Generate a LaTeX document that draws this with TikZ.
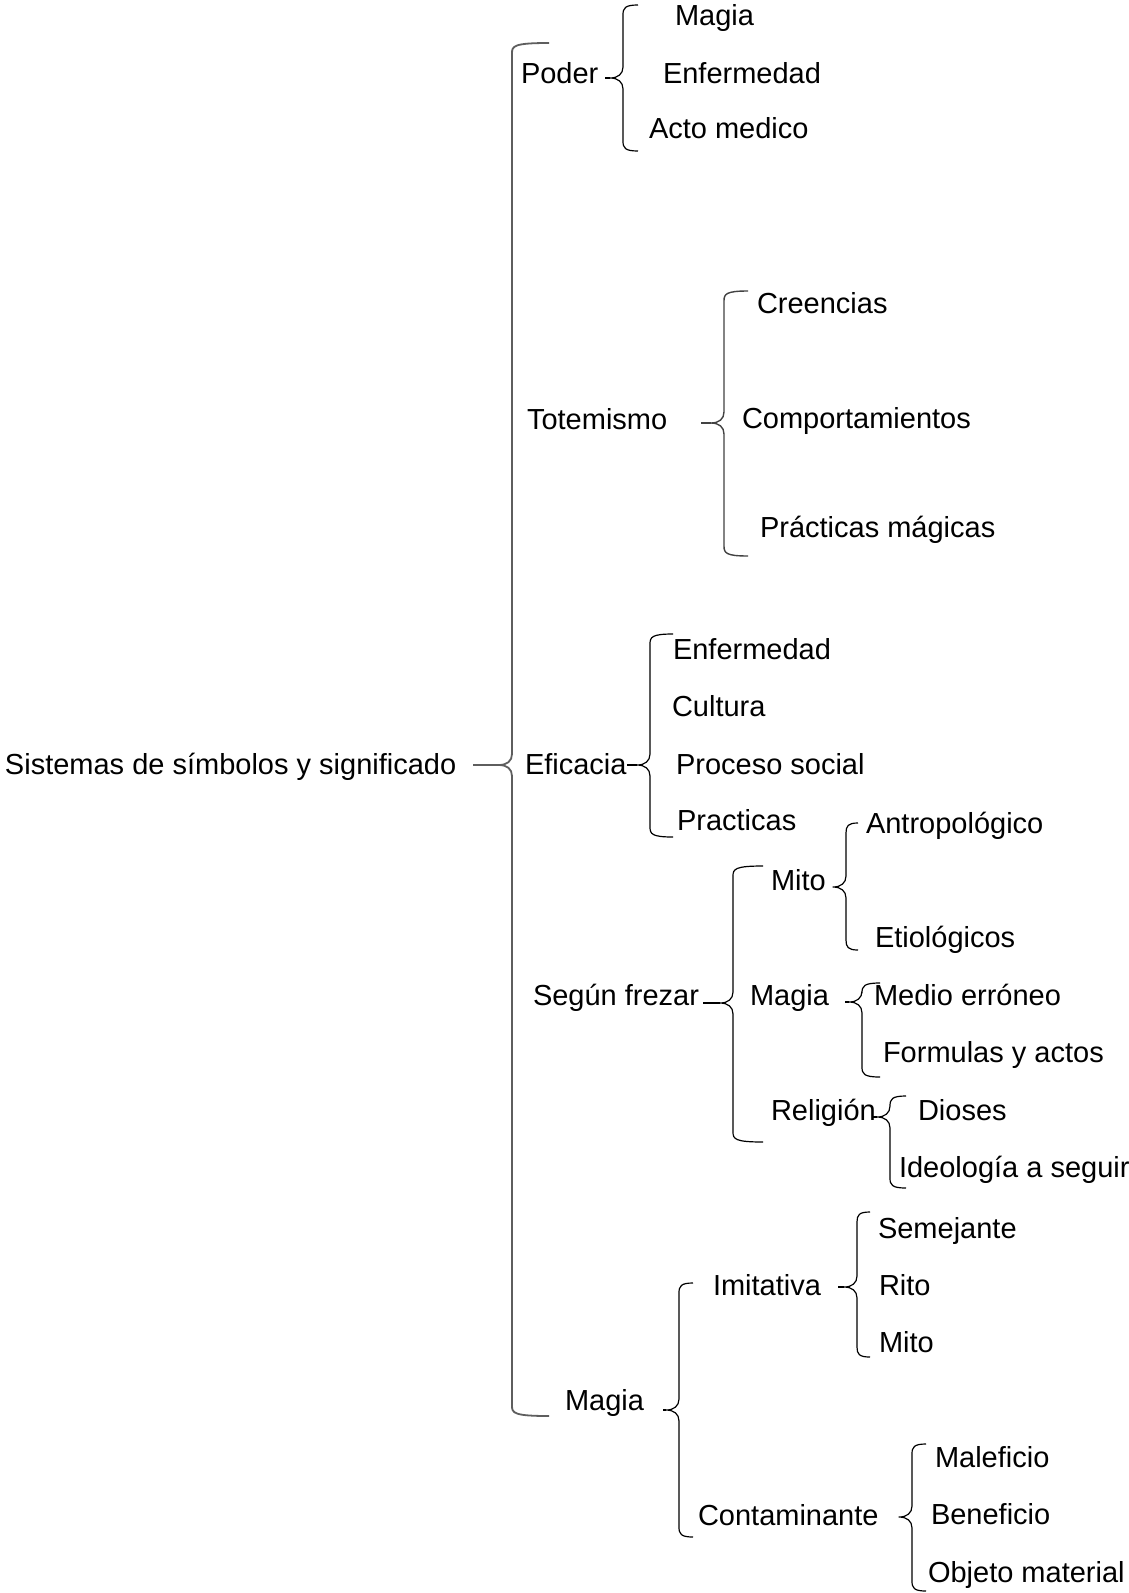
\documentclass[tikz,border=0pt]{standalone}
\usepackage{fontspec}
\setmainfont{Liberation Sans}
\definecolor{maingray}{HTML}{5E5E5E}
\tikzset{
  txt/.style={anchor=base west, inner sep=0pt, outer sep=0pt, font=\fontsize{29}{34}\selectfont},
  mainbr/.style={draw=maingray, line width=1.8pt},
  midbr/.style={draw=maingray!70!black, line width=1.4pt},
  smallbr/.style={draw=black, line width=1.2pt}
}
% #1 line x, #2 top y, #3 bottom y, #4 tip y, #5 tip start x, #6 hook end x, #7 style
\newcommand{\wbr}[7]{%
  \coordinate (brtip) at (#5,#4);
  \coordinate (brpt) at (#1-13,#4);
  \draw[#7, line join=round] (#6,#2) .. controls (#1+2,#2) and (#1,#2+3) .. (#1,#2+10) -- (#1,#4-11)
     .. controls (#1,#4-4) and (#1-5,#4) .. (brpt) .. controls (#1-5,#4) and (#1,#4+4) .. (#1,#4+11)
     -- (#1,#3-10) .. controls (#1,#3-3) and (#1+2,#3) .. (#6,#3);
  \draw[#7] (brtip) -- (brpt);
}
\begin{document}
\begin{tikzpicture}[x=1pt,y=-1pt]
\useasboundingbox (0,0) rectangle (1129,1593);
\fill[white] (0,0) rectangle (1129,1593);

% root
\node[txt] (root) at (5,774) {Sistemas de símbolos y significado};
\wbr{512}{43}{1416}{765}{473}{549}{mainbr}

% level 1
\node[txt] (poder) at (521,83) {Poder};
\node[txt] (totem) at (527,429) {Totemismo};
\node[txt] (efic) at (525,774) {Eficacia};
\node[txt] (segun) at (533,1005) {Según frezar};
\node[txt] (magia) at (565,1410) {Magia};

% Poder
\wbr{623}{5}{151}{78}{605}{638}{smallbr}
\node[txt] (p1) at (675,25) {Magia};
\node[txt] (p2) at (663,83) {Enfermedad};
\node[txt] (p3) at (649,138) {Acto medico};

% Totemismo
\wbr{724}{291}{556}{423}{701}{748}{midbr}
\node[txt] (t1) at (757,313) {Creencias};
\node[txt] (t2) at (742,428) {Comportamientos};
\node[txt] (t3) at (760,537) {Prácticas mágicas};

% Eficacia
\wbr{650}{634}{837}{765}{627}{673}{smallbr}
\node[txt] (e1) at (673,659) {Enfermedad};
\node[txt] (e2) at (672,716) {Cultura};
\node[txt] (e3) at (676,774) {Proceso social};
\node[txt] (e4) at (677,830) {Practicas};

% Segun frezar
\wbr{733}{866}{1142}{1003}{703}{763}{smallbr}
\node[txt] (s1) at (771,890) {Mito};
\node[txt] (s2) at (750,1005) {Magia};
\node[txt] (s3) at (771,1120) {Religión};

% Mito
\wbr{846}{823}{950}{887}{833}{858}{smallbr}
\node[txt] (m1) at (866,833) {Antropológico};
\node[txt] (m2) at (875,947) {Etiológicos};

% Magia (segun)
\wbr{862}{983}{1077}{1002}{845}{880}{smallbr}
\node[txt] (g1) at (874,1005) {Medio erróneo};
\node[txt] (g2) at (883,1062) {Formulas y actos};

% Religion
\wbr{890}{1096}{1188}{1117}{872}{906}{smallbr}
\node[txt] (r1) at (918,1120) {Dioses};
\node[txt] (r2) at (899,1177) {Ideología a seguir};

% Magia (main)
\wbr{679}{1283}{1537}{1410}{663}{693}{smallbr}
\node[txt] (im) at (713,1295) {Imitativa};
\node[txt] (co) at (698,1525) {Contaminante};

% Imitativa
\wbr{857}{1212}{1357}{1287}{838}{870}{smallbr}
\node[txt] (i1) at (878,1238) {Semejante};
\node[txt] (i2) at (879,1295) {Rito};
\node[txt] (i3) at (879,1352) {Mito};

% Contaminante
\wbr{912}{1444}{1591}{1517}{899}{926}{smallbr}
\node[txt] (c1) at (935,1467) {Maleficio};
\node[txt] (c2) at (931,1524) {Beneficio};
\node[txt] (c3) at (928,1582) {Objeto material};
\end{tikzpicture}
\end{document}
